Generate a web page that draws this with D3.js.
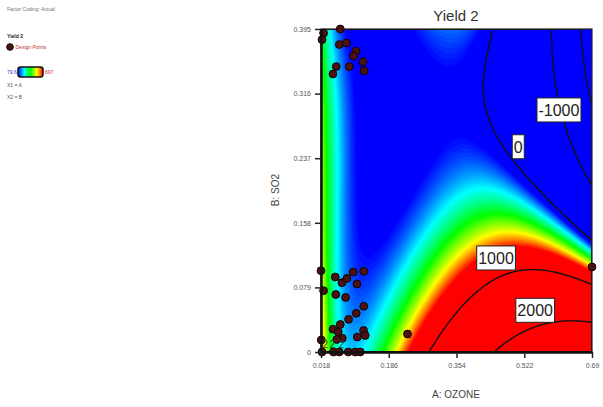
<!DOCTYPE html>
<html>
<head>
<meta charset="utf-8">
<script src="https://cdn.jsdelivr.net/npm/d3@7"></script>
<style>
body { margin: 0; background: #fff; }
text { font-family: "Liberation Sans", Arial, sans-serif; }
</style>
</head>
<body>
<div id="chart"></div>
<script>
const ozoneRange = [0.018, 0.69];
const so2Range = [0, 0.395];
const ozoneTicks = ["0.018", "0.186", "0.354", "0.522", "0.69"];
const so2Ticks = ["0", "0.079", "0.158", "0.237", "0.316", "0.395"];
const contourLevels = [-2000, -1000, 0, 1000, 2000];
const colorMin = 79.6, colorMax = 697;

// response model in coded factors (u = A, v = B scaled to 0..1)
// terms: 1, u, v, u2, uv, v2, u3, u2v, uv2, v3, u4, u3v, u2v2, e, ev, ev2  (e = exp(-u/0.06))
const modelCoef = [36.77, -342.59, 799.86, 9760.28, -10046.73, -12.88, -7486.76, 3599.20,
  7513.30, -597.11, 918.80, -4492.21, -2152.93, 641.78, -1476.40, 997.62];

// contour label positions (A, B)
const labelLevels = [-1000, 0, 1000, 2000];
const labelA = [0.608, 0.507, 0.452, 0.549];
const labelB = [0.296, 0.251, 0.115, 0.051];

// design points
const designA = [0.0658, 0.0244, 0.0205, 0.0633, 0.0807, 0.1047, 0.0987, 0.122, 0.125, 0.088, 0.0559, 0.0477,
  0.018, 0.0244, 0.0534, 0.070, 0.0824, 0.098, 0.1072, 0.124, 0.0547, 0.079, 0.124, 0.1054, 0.0864, 0.0658,
  0.0477, 0.0187, 0.0608, 0.0708, 0.0571, 0.108, 0.1235, 0.1277,
  0.0205, 0.049, 0.0633, 0.0856, 0.103, 0.1153, 0.2325, 0.69];
const designB = [0.395, 0.390, 0.382, 0.376, 0.378, 0.368, 0.362, 0.355, 0.344, 0.349, 0.349, 0.340,
  0.0994, 0.075, 0.0917, 0.0848, 0.0901, 0.0978, 0.0832, 0.0987, 0.0703, 0.0667, 0.0559, 0.0473, 0.040, 0.0336,
  0.0279, 0.0147, 0.0245, 0.0168, 0.0153, 0.0183, 0.0263, 0.0202,
  0, 0, 0, 0, 0, 0, 0.022, 0.104];
const replicateA = [0.022, 0.04, 0.062];

function basis(u, v) {
  const e = Math.exp(-u / 0.06);
  return [1, u, v, u*u, u*v, v*v, u*u*u, u*u*v, u*v*v, v*v*v, u**4, u**3*v, u*u*v*v, e, e*v, e*v*v];
}
function model(u, v) {
  const b = basis(u, v);
  let s = 0;
  for (let i = 0; i < b.length; i++) s += modelCoef[i] * b[i];
  return s;
}

const width = 603, height = 407;
const x0 = 321, x1 = 592, y0 = 29, y1 = 352;
const svg = d3.select("#chart").append("svg").attr("width", width).attr("height", height);

const xScale = d3.scaleLinear().domain(ozoneRange).range([x0, x1]);
const yScale = d3.scaleLinear().domain(so2Range).range([y1, y0]);

const color = d3.scaleLinear()
  .domain(d3.range(5).map(function (i) { return colorMin + i * (colorMax - colorMin) / 4; }))
  .range(["#0000ff", "#00ffff", "#00ff00", "#ffff00", "#ff0000"])
  .clamp(true);

// response grid
const nx = 181, ny = 216;
const values = new Array(nx * ny);
for (let j = 0; j < ny; j++) for (let i = 0; i < nx; i++) {
  values[j * nx + i] = model((i + 0.5) / nx, 1 - (j + 0.5) / ny);
}
const proj = d3.geoTransform({
  point: function (x, y) { this.stream.point(x0 + x * (x1 - x0) / nx, y0 + y * (y1 - y0) / ny); }
});
const path = d3.geoPath(proj);

svg.append("clipPath").attr("id", "clip").append("rect")
  .attr("x", x0).attr("y", y0).attr("width", x1 - x0).attr("height", y1 - y0);
const plot = svg.append("g").attr("clip-path", "url(#clip)");
plot.append("rect").attr("x", x0).attr("y", y0).attr("width", x1 - x0).attr("height", y1 - y0).attr("fill", "#0000ff");

// colour bands
const bands = d3.range(colorMin, colorMax + 0.1, (colorMax - colorMin) / 70);
plot.append("g").selectAll("path").data(d3.contours().size([nx, ny]).thresholds(bands)(values)).join("path")
  .attr("d", path).attr("fill", function (d) { return color(d.value); });

// contour lines
plot.append("g").selectAll("path").data(d3.contours().size([nx, ny]).thresholds(contourLevels)(values)).join("path")
  .attr("d", path).attr("fill", "none").attr("stroke", "#111").attr("stroke-width", 1.4);

// frame
svg.append("rect").attr("x", x0).attr("y", y0).attr("width", x1 - x0).attr("height", y1 - y0)
  .attr("fill", "none").attr("stroke", "#222").attr("stroke-width", 1.2);

// contour labels
const lab = svg.append("g").selectAll("g").data(labelLevels).join("g")
  .attr("transform", function (d, i) { return `translate(${xScale(labelA[i])},${yScale(labelB[i])})`; });
lab.append("text").attr("text-anchor", "middle").attr("dy", "0.36em")
  .attr("font-size", "16px").attr("fill", "#222").text(function (d) { return d; });
lab.each(function () {
  const g = d3.select(this);
  const bb = g.select("text").node().getBBox();
  g.insert("rect", "text").attr("x", bb.x - 1.5).attr("y", -12).attr("width", bb.width + 3).attr("height", 24)
    .attr("fill", "#fff").attr("stroke", "#222").attr("stroke-width", 1);
});

// design points
svg.append("g").selectAll("circle").data(designA).join("circle")
  .attr("cx", function (d) { return xScale(d); })
  .attr("cy", function (d, i) { return yScale(designB[i]); })
  .attr("r", 3.9).attr("fill", "#4a1212").attr("stroke", "#140000").attr("stroke-width", 1);

// replicate marks
svg.append("g").selectAll("text").data(replicateA).join("text")
  .attr("x", function (d) { return xScale(d); }).attr("y", 348)
  .attr("font-size", "10px").attr("fill", "#1f4a1f").text("2");

// axes
const xAxis = svg.append("g").attr("transform", `translate(0,${y1})`)
  .call(d3.axisBottom(xScale).tickValues(ozoneTicks.map(Number)).tickFormat(function (d, i) { return ozoneTicks[i]; }).tickSize(6).tickSizeOuter(0).tickPadding(5));
const yAxis = svg.append("g").attr("transform", `translate(${x0},0)`)
  .call(d3.axisLeft(yScale).tickValues(so2Ticks.map(Number)).tickFormat(function (d, i) { return so2Ticks[i]; }).tickSize(6).tickSizeOuter(0).tickPadding(4));
[xAxis, yAxis].forEach(function (a) {
  a.select(".domain").attr("stroke", "#111").attr("stroke-width", 2.5);
  a.selectAll(".tick line").attr("stroke", "#222").attr("stroke-width", 1.5);
  a.selectAll(".tick text").attr("font-size", "7px").attr("fill", "#555").attr("font-family", "Liberation Sans, Arial, sans-serif");
});

svg.append("text").attr("x", 456).attr("y", 21).attr("text-anchor", "middle")
  .attr("font-size", "15px").attr("fill", "#333").text("Yield 2");
svg.append("text").attr("x", 456).attr("y", 398).attr("text-anchor", "middle")
  .attr("font-size", "10px").attr("fill", "#444").text("A: OZONE");
svg.append("text").attr("transform", "translate(279,190) rotate(-90)").attr("text-anchor", "middle")
  .attr("font-size", "10px").attr("fill", "#444").text("B: SO2");

// legend
const leg = svg.append("g").attr("font-size", "5px");
leg.append("text").attr("x", 7).attr("y", 11).attr("fill", "#777").text("Factor Coding: Actual");
leg.append("text").attr("x", 7).attr("y", 38).attr("fill", "#222").attr("font-weight", "bold").text("Yield 2");
leg.append("circle").attr("cx", 10).attr("cy", 47).attr("r", 3.3).attr("fill", "#4a1212").attr("stroke", "#140000");
leg.append("text").attr("x", 15.5).attr("y", 49).attr("fill", "#c03030").text("Design Points");
const grad = svg.append("defs").append("linearGradient").attr("id", "lg");
grad.selectAll("stop").data(color.range()).join("stop")
  .attr("offset", function (d, i) { return i / 4; }).attr("stop-color", function (d) { return d; });
leg.append("text").attr("x", 7).attr("y", 74).attr("fill", "#3030d0").text(colorMin);
leg.append("rect").attr("x", 18).attr("y", 67).attr("width", 25).attr("height", 10).attr("rx", 2.5)
  .attr("fill", "url(#lg)").attr("stroke", "#111").attr("stroke-width", 1.5);
leg.append("text").attr("x", 45).attr("y", 74).attr("fill", "#d03030").text(colorMax);
leg.append("text").attr("x", 7).attr("y", 87).attr("fill", "#555").text("X1 = A");
leg.append("text").attr("x", 7).attr("y", 99).attr("fill", "#555").text("X2 = B");
</script>
</body>
</html>
